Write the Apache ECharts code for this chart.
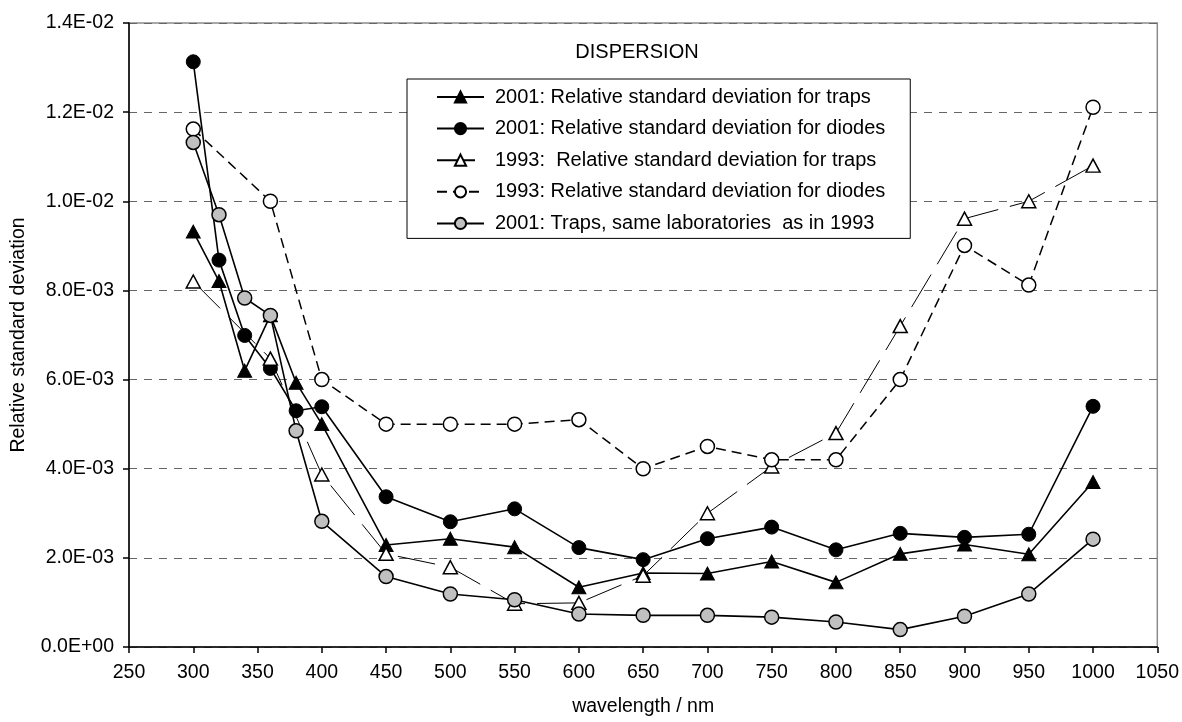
<!DOCTYPE html>
<html>
<head>
<meta charset="utf-8">
<script src="https://cdn.jsdelivr.net/npm/echarts@6/dist/echarts.min.js"></script>
<style>
  html, body { margin: 0; padding: 0; background: #fff; }
  #chart { width: 1182px; height: 722px; }
</style>
</head>
<body>
<div id="chart"></div>
<script>
// Wavelengths (nm) at which the dispersion was evaluated
const wavelengths = [300, 320, 340, 360, 380, 400, 450, 500, 550, 600, 650, 700, 750, 800, 850, 900, 950, 1000];

// Relative standard deviations per series (null = not measured)
const traps2001 = [0.00932, 0.00821, 0.00620, 0.00744, 0.00593, 0.00500, 0.00229, 0.00243, 0.00224, 0.00134, 0.00166, 0.00165, 0.00192, 0.00145, 0.00209, 0.00230, 0.00208, 0.00370];
const diodes2001 = [0.01313, 0.00868, 0.00699, 0.00625, 0.00530, 0.00539, 0.00337, 0.00281, 0.00310, 0.00223, 0.00196, 0.00243, 0.00269, 0.00218, 0.00255, 0.00246, 0.00253, 0.00540];
const traps1993 = [0.00820, null, null, 0.00647, null, 0.00387, 0.00209, 0.00179, 0.00097, 0.00099, 0.00160, 0.00300, 0.00405, 0.00480, 0.00720, 0.00961, 0.01000, 0.01080];
const diodes1993 = [0.01162, null, null, 0.01000, null, 0.00600, 0.00500, 0.00500, 0.00500, 0.00510, 0.00400, 0.00450, 0.00420, 0.00420, 0.00600, 0.00901, 0.00812, 0.01211];
const trapsSameLabs2001 = [0.01132, 0.00970, 0.00783, 0.00744, 0.00485, 0.00282, 0.00158, 0.00119, 0.00106, 0.00074, 0.00071, 0.00071, 0.00067, 0.00056, 0.00039, 0.00069, 0.00119, 0.00242];

const seriesNames = [
  '2001: Relative standard deviation for traps',
  '2001: Relative standard deviation for diodes',
  '1993:  Relative standard deviation for traps',
  '1993: Relative standard deviation for diodes',
  '2001: Traps, same laboratories  as in 1993'
];

const FONT = 'Liberation Sans, Arial, sans-serif';

function pairs(values) {
  return wavelengths.map((w, i) => [w, values[i]]);
}

// 0.012 -> "1.2E-02"
function sci(v) {
  const s = Number(v).toExponential(1);
  const [m, e] = s.split('e');
  const n = parseInt(e, 10);
  const sign = n < 0 ? '-' : '+';
  const d = String(Math.abs(n)).padStart(2, '0');
  return m + 'E' + sign + d;
}

const chart = echarts.init(document.getElementById('chart'), null, { renderer: 'canvas' });

chart.setOption({
  animation: false,
  backgroundColor: '#ffffff',
  textStyle: { fontFamily: FONT },
  title: {
    text: 'DISPERSION',
    left: 637,
    top: 42,
    padding: 0,
    textAlign: 'center',
    textStyle: { fontFamily: FONT, fontSize: 20, fontWeight: 'normal', color: '#000' }
  },
  grid: {
    left: 129, right: 24, top: 23, bottom: 71,
    show: true, borderColor: '#8c8c8c', borderWidth: 1.5, backgroundColor: '#fff'
  },
  legend: {
    orient: 'vertical',
    left: 407, top: 79,
    padding: [8, 25, 5, 29],
    itemWidth: 47, itemHeight: 14, itemGap: 11.6,
    borderColor: '#000', borderWidth: 1, backgroundColor: '#fff',
    textStyle: { fontFamily: FONT, fontSize: 20, color: '#000', lineHeight: 19, padding: [0, 0, 0, 6] },
    data: seriesNames
  },
  xAxis: {
    type: 'value',
    min: 250, max: 1050, interval: 50,
    name: 'wavelength / nm',
    nameLocation: 'middle', nameGap: 50,
    nameTextStyle: { fontFamily: FONT, fontSize: 19.5, color: '#000' },
    axisLine: { show: true, lineStyle: { color: '#000', width: 1.5 } },
    axisTick: { show: true, inside: false, length: 6, lineStyle: { color: '#000', width: 1.5 } },
    axisLabel: { fontFamily: FONT, fontSize: 19.5, color: '#000', margin: 16, formatter: v => String(v) },
    splitLine: { show: false }
  },
  yAxis: {
    type: 'value',
    min: 0, max: 0.014, interval: 0.002,
    name: 'Relative standard deviation',
    nameLocation: 'middle', nameGap: 100, nameRotate: 90,
    nameTextStyle: { fontFamily: FONT, fontSize: 19.5, color: '#000' },
    axisLine: { show: true, lineStyle: { color: '#000', width: 1.5 } },
    axisTick: { show: true, inside: false, length: 6, lineStyle: { color: '#000', width: 1.5 } },
    axisLabel: { fontFamily: FONT, fontSize: 19.5, color: '#000', margin: 15, formatter: sci },
    splitLine: { show: true, lineStyle: { color: '#666', width: 1, type: [8, 7] } }
  },
  series: [
    {
      name: seriesNames[0], type: 'line', data: pairs(traps2001),
      symbol: 'triangle', symbolSize: [14, 13],
      lineStyle: { color: '#000', width: 1.6, type: 'solid' },
      itemStyle: { color: '#000', borderColor: '#000', borderWidth: 1 },
      z: 2
    },
    {
      name: seriesNames[1], type: 'line', data: pairs(diodes2001),
      symbol: 'circle', symbolSize: 14,
      lineStyle: { color: '#000', width: 1.6, type: 'solid' },
      itemStyle: { color: '#000', borderColor: '#000', borderWidth: 1 },
      z: 3
    },
    {
      name: seriesNames[2], type: 'line', data: pairs(traps1993), connectNulls: true,
      symbol: 'triangle', symbolSize: [14, 13],
      lineStyle: { color: '#000', width: 1, type: [38, 12] },
      itemStyle: { color: '#fff', borderColor: '#000', borderWidth: 1.5 },
      z: 4
    },
    {
      name: seriesNames[3], type: 'line', data: pairs(diodes1993), connectNulls: true,
      symbol: 'circle', symbolSize: 14,
      lineStyle: { color: '#000', width: 1.5, type: [10, 6] },
      itemStyle: { color: '#fff', borderColor: '#000', borderWidth: 1.5 },
      z: 5
    },
    {
      name: seriesNames[4], type: 'line', data: pairs(trapsSameLabs2001),
      symbol: 'circle', symbolSize: 14,
      lineStyle: { color: '#000', width: 1.6, type: 'solid' },
      itemStyle: { color: '#c0c0c0', borderColor: '#000', borderWidth: 1.5 },
      z: 6
    }
  ]
});
</script>
</body>
</html>
